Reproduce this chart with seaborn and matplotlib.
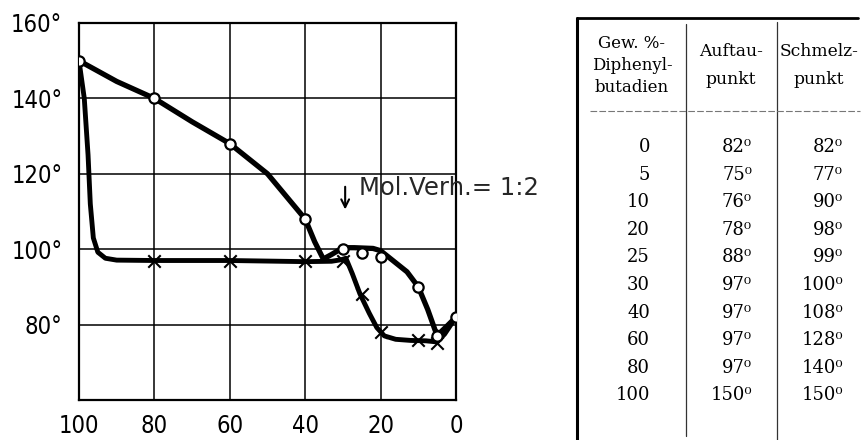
import matplotlib
matplotlib.use("Agg")
import matplotlib.pyplot as plt
import seaborn as sns
import pandas as pd

# ---- data (from the table) ----
pct = [0, 5, 10, 20, 25, 30, 40, 60, 80, 100]
auftau = [82, 75, 76, 78, 88, 97, 97, 97, 97, 150]
schmelz = [82, 77, 90, 98, 99, 100, 108, 128, 140, 150]

# hand-drawn curve paths
auftau_curve_x = [100, 98.6, 97.6, 97.0, 96.2, 95.0, 93.0, 90.0, 80, 60, 40, 33, 30.5, 29.2,
                  27.5, 25.5, 23.0, 21.0, 19.0, 16.0, 12.0, 8.0, 5.0, 3.0, 0]
auftau_curve_y = [150, 140, 125, 112, 103, 99.2, 97.6, 97.1, 97, 97, 96.7, 96.8, 97.2, 97.6,
                  93.5, 88.2, 83.0, 79.2, 77.0, 76.1, 75.8, 75.7, 75.4, 77.5, 82]
schmelz_curve_x = [100, 90, 80, 70, 60, 50, 45, 40, 37.5, 35.2, 33, 30, 27, 22, 20,
                   17, 13, 10, 7.5, 5.5, 4.5, 2.5, 0]
schmelz_curve_y = [150, 144.5, 140, 133.8, 128, 120, 114, 108, 102, 97.4, 98.6, 100.4, 100.4, 100.2, 99.6,
                   97.2, 94.0, 90.0, 84.0, 78.4, 77.6, 79.5, 82]

x_ticks = [100, 80, 60, 40, 20, 0]
y_ticks = [80, 100, 120, 140, 160]
annotation = "Mol.Verh.= 1:2"

head_col1 = ["Gew. %-", "Diphenyl-", "butadien"]
head_col2 = ["Auftau-", "punkt"]
head_col3 = ["Schmelz-", "punkt"]

# ---- style ----
sns.set_style("white")
plt.rcParams["font.family"] = ["DejaVu Sans"]

fig = plt.figure(figsize=(8.65, 4.4), dpi=100)

# table canvas (pixel coordinates)
tab = fig.add_axes([0, 0, 1, 1])
tab.set_xlim(0, 865)
tab.set_ylim(440, 0)
tab.axis("off")

# chart axes
ax = fig.add_axes([79 / 865, 1 - 400 / 440, 377 / 865, 377 / 440])
ax.set_facecolor("white")

df_a = pd.DataFrame({"x": auftau_curve_x, "y": auftau_curve_y})
df_s = pd.DataFrame({"x": schmelz_curve_x, "y": schmelz_curve_y})
sns.lineplot(data=df_a, x="x", y="y", sort=False, estimator=None, color="black", lw=3.5, ax=ax, zorder=3)
sns.lineplot(data=df_s, x="x", y="y", sort=False, estimator=None, color="black", lw=3.8, ax=ax, zorder=3)

df_pts = pd.DataFrame({"pct": pct, "auftau": auftau, "schmelz": schmelz})
inner = df_pts[(df_pts.pct > 0) & (df_pts.pct < 100)]
sns.scatterplot(data=inner, x="pct", y="auftau", marker="x", s=80, color="black",
                linewidth=1.5, ax=ax, zorder=5)
sns.scatterplot(data=df_pts, x="pct", y="schmelz", marker="o", s=55, facecolor="white",
                edgecolor="black", linewidth=1.6, ax=ax, zorder=6)

ax.set_xlim(100, 0)
ax.set_ylim(60, 160)
ax.set_xticks(x_ticks)
ax.set_xticklabels([str(v) for v in x_ticks])
ax.set_yticks(y_ticks)
ax.set_yticklabels([f"{v}°" for v in y_ticks])
ax.tick_params(length=0, labelsize=17, colors="black")
ax.tick_params(axis="y", pad=12)
ax.tick_params(axis="x", pad=10)
for lab in ax.get_xticklabels() + ax.get_yticklabels():
    lab.set_fontstretch("condensed")
ax.set_xlabel("")
ax.set_ylabel("")
ax.grid(True, color="black", lw=1.1)
ax.set_axisbelow(True)
for sp in ax.spines.values():
    sp.set_visible(True)
    sp.set_color("black")
    sp.set_linewidth(1.6)

ax.annotate("", xy=(29.4, 109.8), xytext=(29.4, 117.3),
            arrowprops=dict(arrowstyle="->", lw=1.5, color="black", mutation_scale=14),
            annotation_clip=False)
ax.text(25.6, 114.3, annotation, fontsize=17.5, ha="left", va="baseline", clip_on=False)

# ---- table ----
serif = ["DejaVu Serif"]
tab.plot([577, 577], [18, 440], color="black", lw=2.2)
tab.plot([577, 858], [18, 18], color="black", lw=2.0)
tab.plot([686, 686], [24, 436], color="#333333", lw=0.9)
tab.plot([777, 777], [22, 440], color="#333333", lw=0.9)
tab.plot([590, 860], [111, 111], color="#777777", lw=0.8, ls=(0, (6, 2)))

for i, t in enumerate(head_col1):
    tab.text(632, 43 + i * 22.5, t, fontsize=12, family=serif, ha="center", va="center", color="black")
for i, t in enumerate(head_col2):
    tab.text(731, 52 + i * 27, t, fontsize=12.3, family=serif, ha="center", va="center", color="black")
for i, t in enumerate(head_col3):
    tab.text(819, 52 + i * 27, t, fontsize=12.3, family=serif, ha="center", va="center", color="black")

for i, (p, a, s) in enumerate(zip(pct, auftau, schmelz)):
    yy = 147 + i * 27.6
    tab.text(650, yy, str(p), fontsize=13, family=serif, ha="right", va="center", color="black")
    tab.text(752, yy, f"{a}⁰", fontsize=13, family=serif, ha="right", va="center", color="black")
    tab.text(843, yy, f"{s}⁰", fontsize=13, family=serif, ha="right", va="center", color="black")

fig.savefig("out.png", dpi=100)
